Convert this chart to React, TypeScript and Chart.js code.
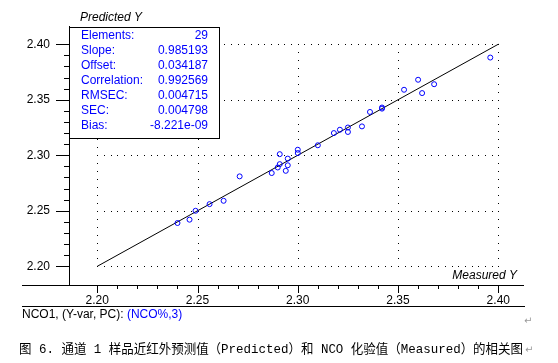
import React, { useEffect, useRef } from "react";
import { Chart, registerables } from "chart.js";

Chart.register(...registerables);

// ---- data ----
const measured = [2.240, 2.246, 2.249, 2.256, 2.263, 2.271, 2.287, 2.290, 2.291, 2.291, 2.295, 2.295, 2.294, 2.300, 2.300, 2.310, 2.318, 2.321, 2.325, 2.325, 2.332, 2.336, 2.342, 2.342, 2.353, 2.360, 2.362, 2.368, 2.396];
const predicted = [2.239, 2.242, 2.250, 2.256, 2.259, 2.281, 2.284, 2.289, 2.292, 2.301, 2.297, 2.291, 2.286, 2.305, 2.302, 2.309, 2.320, 2.323, 2.325, 2.321, 2.326, 2.339, 2.343, 2.342, 2.359, 2.368, 2.356, 2.364, 2.388];
const fitX = [2.2, 2.4];
const fitY = [2.2, 2.4];
const xTicks = [2.2, 2.25, 2.3, 2.35, 2.4];
const yTicks = [2.2, 2.25, 2.3, 2.35, 2.4];
const minorStep = 0.01;
const statLabels = ["Elements:", "Slope:", "Offset:", "Correlation:", "RMSEC:", "SEC:", "Bias:"];
const statValues = ["29", "0.985193", "0.034187", "0.992569", "0.004715", "0.004798", "-8.221e-09"];
const yTitle = "Predicted Y";
const xTitle = "Measured Y";
const footerBlack = "NCO1, (Y-var, PC): ";
const footerBlue = "(NCO%,3)";
const caption = "图 6. 通道 1 样品近红外预测值（Predicted）和 NCO 化验值（Measured）的相关图";

const SANS = "'Liberation Sans', Arial, sans-serif";
const BLUE = "#0000ff";

const decorPlugin = {
  id: "decor",
  beforeDatasetsDraw(chart: any) {
    const ctx = chart.ctx;
    const xs = chart.scales.x;
    const ys = chart.scales.y;
    const x0 = xs.getPixelForValue(xTicks[0]);
    const x1 = xs.getPixelForValue(xTicks[xTicks.length - 1]);
    const y0 = ys.getPixelForValue(yTicks[0]);
    const y1 = ys.getPixelForValue(yTicks[yTicks.length - 1]);
    ctx.save();
    ctx.fillStyle = "#000";
    const nx = (xTicks.length - 1) * 15;
    for (const yv of yTicks) {
      const py = Math.round(ys.getPixelForValue(yv));
      for (let k = 0; k <= nx; k++) {
        const px = Math.round(x0 + (k * (x1 - x0)) / nx);
        ctx.fillRect(px, py, 1, 1);
      }
    }
    const ny = (yTicks.length - 1) * 7;
    for (const xv of xTicks) {
      const px = Math.round(xs.getPixelForValue(xv));
      for (let k = 0; k <= ny; k++) {
        const py = Math.round(y0 + (k * (y1 - y0)) / ny);
        ctx.fillRect(px, py, 1, 1);
      }
    }
    ctx.restore();
  },
  afterDraw(chart: any) {
    const ctx = chart.ctx;
    const xs = chart.scales.x;
    const ys = chart.scales.y;
    const area = chart.chartArea;
    ctx.save();
    ctx.fillStyle = "#000";
    // axis lines
    const ax = Math.round(area.left);
    const ay = Math.round(area.bottom);
    ctx.fillRect(ax, Math.round(area.top), 1, ay - Math.round(area.top));
    ctx.fillRect(22, ay, Math.round(area.right) - 22, 1);
    // y ticks
    const yMin = yTicks[0];
    const yMax = yTicks[yTicks.length - 1];
    const nyMinor = Math.round((yMax - yMin) / minorStep);
    for (let k = 0; k <= nyMinor; k++) {
      const v = yMin + k * minorStep;
      const py = Math.round(ys.getPixelForValue(v));
      const major = k % 5 === 0;
      const len = major ? 13 : 5;
      ctx.fillRect(ax - len, py, len, 1);
    }
    // x ticks
    const xMin = xTicks[0];
    const xMax = xTicks[xTicks.length - 1];
    const nxMinor = Math.round((xMax - xMin) / minorStep);
    for (let k = 0; k <= nxMinor; k++) {
      const v = xMin + k * minorStep;
      const px = Math.round(xs.getPixelForValue(v));
      const major = k % 5 === 0;
      const len = major ? 8 : 4;
      ctx.fillRect(px, ay, 1, len);
    }
    // stats box
    ctx.fillStyle = "#fff";
    ctx.fillRect(69, 27, 150, 111);
    ctx.strokeStyle = "#000";
    ctx.lineWidth = 1;
    ctx.strokeRect(69.5, 27.5, 150, 111);
    ctx.font = "12px " + SANS;
    ctx.textBaseline = "middle";
    ctx.fillStyle = BLUE;
    statLabels.forEach((lab, i) => {
      const ty = 36 + i * 15;
      ctx.textAlign = "left";
      ctx.fillText(lab, 81, ty);
      ctx.textAlign = "right";
      ctx.fillText(statValues[i], 208, ty);
    });
    // axis titles
    ctx.fillStyle = "#000";
    ctx.font = "italic 12px " + SANS;
    ctx.textAlign = "left";
    ctx.fillText(yTitle, 80, 18);
    ctx.textAlign = "right";
    ctx.fillText(xTitle, 517, 276);
    // footer
    ctx.fillRect(22, 306, 503, 1);
    ctx.font = "12px " + SANS;
    ctx.textAlign = "left";
    ctx.fillStyle = "#000";
    ctx.fillText(footerBlack, 22, 315);
    const w = ctx.measureText(footerBlack).width;
    ctx.fillStyle = BLUE;
    ctx.fillText(footerBlue, 22 + w, 315);
    // caption
    ctx.fillStyle = "#000";
    ctx.font = "13px 'Liberation Mono', 'Noto Sans CJK SC', monospace";
    ctx.fillText(caption, 19, 350, 504);
    // paragraph marks
    ctx.fillStyle = "#9a9a9a";
    ctx.font = "10px 'DejaVu Sans', sans-serif";
    ctx.fillText("↵", 524, 321);
    ctx.fillText("↵", 525, 350);
    ctx.restore();
  },
};

export default function App() {
  const ref = useRef<HTMLCanvasElement | null>(null);
  useEffect(() => {
    document.body.style.margin = "0";
    const canvas = ref.current;
    if (!canvas) return;
    const chart = new Chart(canvas, {
      type: "scatter",
      data: {
        datasets: [
          {
            type: "scatter",
            label: "samples",
            data: measured.map((m, i) => ({ x: m, y: predicted[i] })),
            pointStyle: "circle",
            pointRadius: 2.5,
            pointBorderWidth: 1,
            borderColor: BLUE,
            backgroundColor: "rgba(0,0,0,0)",
            order: 1,
          },
          {
            type: "line",
            label: "fit",
            data: fitX.map((x, i) => ({ x, y: fitY[i] })),
            borderColor: "#000",
            borderWidth: 1,
            pointRadius: 0,
            fill: false,
            order: 2,
          },
        ],
      },
      options: {
        animation: false,
        responsive: true,
        maintainAspectRatio: false,
        layout: { padding: { left: 0, top: 8, right: 34, bottom: 0 } },
        plugins: {
          legend: { display: false },
          tooltip: { enabled: false },
          title: { display: false },
        },
        scales: {
          x: {
            type: "linear",
            min: 2.18589,
            max: 2.41282,
            grid: { display: false, drawTicks: false },
            border: { display: false },
            afterBuildTicks: (s: any) => {
              s.ticks = xTicks.map((v) => ({ value: v }));
            },
            afterFit: (s: any) => {
              s.height = 78;
            },
            ticks: {
              padding: 8,
              color: "#000",
              font: { family: SANS, size: 12 },
              maxRotation: 0,
              autoSkip: false,
              callback: (v: any) => Number(v).toFixed(2),
            },
          },
          y: {
            type: "linear",
            min: 2.18317,
            max: 2.41624,
            grid: { display: false, drawTicks: false },
            border: { display: false },
            afterBuildTicks: (s: any) => {
              s.ticks = yTicks.map((v) => ({ value: v }));
            },
            afterFit: (s: any) => {
              s.width = 69;
            },
            ticks: {
              padding: 19,
              color: "#000",
              font: { family: SANS, size: 12 },
              autoSkip: false,
              callback: (v: any) => Number(v).toFixed(2),
            },
          },
        },
      },
      plugins: [decorPlugin],
    } as any);
    return () => chart.destroy();
  }, []);
  return (
    <div style={{ position: "relative", width: "558px", height: "363px" }}>
      <canvas ref={ref} />
    </div>
  );
}
